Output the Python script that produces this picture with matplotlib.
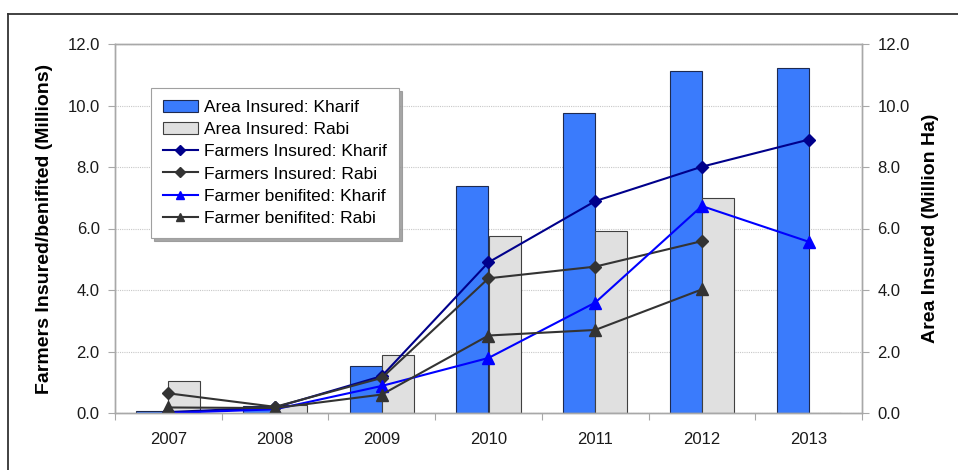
import matplotlib
matplotlib.use("Agg")
import matplotlib.pyplot as plt
from matplotlib.lines import Line2D
from matplotlib.patches import Patch
import numpy as np

plt.rcParams['font.family'] = ['Liberation Sans', 'DejaVu Sans']

years = ['2007', '2008', '2009', '2010', '2011', '2012', '2013']
area_kharif = [0.07, 0.22, 1.53, 7.37, 9.77, 11.12, 11.22]
area_rabi = [1.04, 0.25, 1.89, 5.77, 5.92, 6.99, 0.0]
farmers_ins_kharif = [0.03, 0.18, 1.20, 4.90, 6.89, 8.01, 8.89]
farmers_ins_rabi = [0.64, 0.20, 1.14, 4.38, 4.76, 5.59, np.nan]
farmers_ben_kharif = [0.0, 0.12, 0.88, 1.79, 3.59, 6.73, 5.57]
farmers_ben_rabi = [0.18, 0.16, 0.60, 2.52, 2.70, 4.02, np.nan]
yticks = [0, 2, 4, 6, 8, 10, 12]

fig = plt.figure(figsize=(9.58, 4.70), dpi=100)
ax2 = fig.add_axes([115/958, 57/470, 747/958, 369/470])
ax = ax2.twinx()

x = np.arange(len(years))
w = 0.30
kh_color = '#3A7BFC'
rb_color = '#E0E0E0'
b1 = ax2.bar(x - w, area_kharif, width=w, align='edge', color=kh_color,
             edgecolor='#1E2A50', linewidth=0.8, zorder=2)
b2 = ax2.bar(x, area_rabi, width=w, align='edge', color=rb_color,
             edgecolor='#404040', linewidth=0.8, zorder=2)

l1, = ax.plot(x, farmers_ins_kharif, color='#00008B', marker='D', markersize=6,
              linewidth=1.5, label='Farmers Insured: Kharif')
l2, = ax.plot(x, farmers_ins_rabi, color='#333333', marker='D', markersize=6,
              linewidth=1.5, label='Farmers Insured: Rabi')
l3, = ax.plot(x, farmers_ben_kharif, color='#0000FF', marker='^', markersize=8,
              linewidth=1.5, label='Farmer benifited: Kharif')
l4, = ax.plot(x, farmers_ben_rabi, color='#333333', marker='^', markersize=8,
              linewidth=1.5, label='Farmer benifited: Rabi')

# layering: lines (left axis) above bars (right axis)
ax.set_zorder(ax2.get_zorder() + 1)
ax.patch.set_visible(False)

# left axis = farmers, right axis = area
ax.yaxis.tick_left()
ax.yaxis.set_label_position('left')
ax2.yaxis.tick_right()
ax2.yaxis.set_label_position('right')

for a in (ax, ax2):
    a.set_xlim(-0.5, 6.5)
    a.set_ylim(0, 12)
    a.set_yticks(yticks)
    a.set_yticklabels([f'{v:.1f}' for v in yticks])
    for s in a.spines.values():
        s.set_color('#A8A8A8')
        s.set_linewidth(1.0)
    a.tick_params(axis='y', length=5, width=0.8, color='#A8A8A8', labelsize=12,
                  labelcolor='#1A1A1A', pad=6)

ax2.yaxis.grid(True, linestyle=(0, (1, 1)), color='#C8C8C8', linewidth=0.8, zorder=0)
ax2.set_axisbelow(True)

# x ticks: boundaries as major ticks, labels at category centres
ax2.set_xticks(np.arange(-0.5, 7.0, 1.0))
ax2.set_xticklabels([])
ax2.set_xticks(x, minor=True)
ax2.set_xticklabels(years, minor=True)
ax2.tick_params(axis='x', which='major', length=5, width=0.8, color='#A8A8A8')
ax2.tick_params(axis='x', which='minor', length=0, labelsize=12,
                labelcolor='#1A1A1A', pad=13.5)
ax.tick_params(axis='x', which='both', bottom=False, labelbottom=False)

ax.set_ylabel('Farmers Insured/benifited (Millions)', fontsize=14, fontweight='bold')
ax.yaxis.set_label_coords(-0.083, 0.5)
ax2.set_ylabel('Area Insured (Million Ha)', fontsize=14, fontweight='bold',
               rotation=90)
ax2.yaxis.set_label_coords(1.080, 0.5)

handles = [Patch(facecolor=kh_color, edgecolor='#1E2A50', linewidth=0.8),
           Patch(facecolor=rb_color, edgecolor='#404040', linewidth=0.8),
           l1, l2, l3, l4]
labels = ['Area Insured: Kharif', 'Area Insured: Rabi', 'Farmers Insured: Kharif',
          'Farmers Insured: Rabi', 'Farmer benifited: Kharif', 'Farmer benifited: Rabi']
leg = ax.legend(handles, labels, loc='upper left', bbox_to_anchor=(0.048, 0.881),
                fontsize=12.5, frameon=True, fancybox=False,
                shadow={'color': '#909090', 'alpha': 0.8},
                labelspacing=0.40, handlelength=2.0, handletextpad=0.35,
                borderpad=0.7, borderaxespad=0, markerscale=0.8)
leg.get_frame().set_edgecolor('#A0A0A0')
leg.get_frame().set_linewidth(0.8)

# outer border of the image
fig.add_artist(Line2D([8/958, 8/958], [0, 1 - 14/470], color='#333333',
                      linewidth=1.3, transform=fig.transFigure))
fig.add_artist(Line2D([8/958, 1], [1 - 14/470, 1 - 14/470], color='#333333',
                      linewidth=1.3, transform=fig.transFigure))

fig.savefig('out.png', dpi=100)
